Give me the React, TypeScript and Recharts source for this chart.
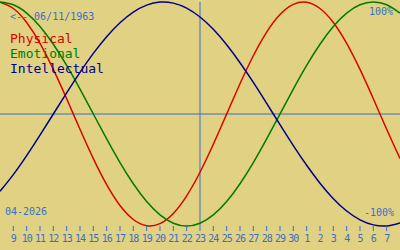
import { Line, LineChart, XAxis, YAxis, ReferenceLine } from "recharts";

// one point per day, 8 Apr .. 8 May
const dayLabels = [
  "8", "9", "10", "11", "12", "13", "14", "15", "16", "17", "18", "19", "20", "21", "22", "23",
  "24", "25", "26", "27", "28", "29", "30", "1", "2", "3", "4", "5", "6", "7", "8",
];
const physical = [
  0.998, 0.942, 0.817, 0.631, 0.398, 0.136, -0.136, -0.398, -0.631, -0.817, -0.942, -0.998, -0.979, -0.888, -0.731, -0.52,
  -0.27, 0, 0.27, 0.52, 0.731, 0.888, 0.979, 0.998, 0.942, 0.817, 0.631, 0.398, 0.136, -0.136, -0.398,
];
const emotional = [
  1.0, 0.975, 0.901, 0.782, 0.623, 0.434, 0.223, 0, -0.223, -0.434, -0.623, -0.782, -0.901, -0.975, -1.0, -0.975,
  -0.901, -0.782, -0.623, -0.434, -0.223, 0, 0.223, 0.434, 0.623, 0.782, 0.901, 0.975, 1.0, 0.975, 0.901,
];
const intellectual = [
  -0.69, -0.541, -0.372, -0.189, 0, 0.189, 0.372, 0.541, 0.69, 0.815, 0.91, 0.972, 0.999, 0.99, 0.945, 0.866,
  0.756, 0.618, 0.458, 0.282, 0.095, -0.095, -0.282, -0.458, -0.618, -0.756, -0.866, -0.945, -0.99, -0.999, -0.972,
];
const todayIndex = 15;

const data = dayLabels.map((d, i) => ({
  i,
  day: d,
  physical: physical[i],
  emotional: emotional[i],
  intellectual: intellectual[i],
}));
const ticks = data.slice(1, -1).map((p) => p.i);

const bg = "#e0d282";
const blue = "#3a6ec8";
const mono = "'DejaVu Sans Mono', monospace";

const txt = (top: number, left: number, size: number, color: string): React.CSSProperties => ({
  position: "absolute",
  top,
  left,
  fontSize: size,
  color,
  fontFamily: mono,
  lineHeight: 1,
  whiteSpace: "pre",
});

export default function App() {
  return (
    <div style={{ position: "absolute", left: 0, top: 0, width: 400, height: 250, background: bg, overflow: "hidden" }}>
      <LineChart width={400} height={250} data={data} margin={{ top: 2, right: 0, left: 0, bottom: 0 }}>
        <XAxis
          dataKey="i"
          type="number"
          domain={[0, 30]}
          ticks={ticks}
          interval={0}
          tickFormatter={(v) => dayLabels[v]}
          axisLine={false}
          tickLine={{ stroke: blue }}
          tickSize={5}
          tickMargin={4}
          height={24}
          tick={{ fill: blue, fontSize: 10, fontFamily: mono, letterSpacing: -1 }}
        />
        <YAxis hide domain={[-1, 1]} />
        <ReferenceLine y={0} stroke={blue} strokeWidth={1} />
        <ReferenceLine x={todayIndex} stroke={blue} strokeWidth={1} />
        <Line type="natural" dataKey="physical" stroke="#dc0000" strokeWidth={1.5} dot={false} isAnimationActive={false} />
        <Line type="natural" dataKey="emotional" stroke="#007a00" strokeWidth={1.5} dot={false} isAnimationActive={false} />
        <Line type="natural" dataKey="intellectual" stroke="#00008c" strokeWidth={1.5} dot={false} isAnimationActive={false} />
      </LineChart>
      <div style={txt(12, 10, 10, blue)}>{"<-- 06/11/1963"}</div>
      <div style={txt(32, 10, 13, "#dc0000")}>Physical</div>
      <div style={txt(47, 10, 13, "#007a00")}>Emotional</div>
      <div style={txt(62, 10, 13, "#00008c")}>Intellectual</div>
      <div style={txt(7, 369, 10, blue)}>100%</div>
      <div style={txt(208, 364, 10, blue)}>-100%</div>
      <div style={txt(207, 5, 10, blue)}>04-2026</div>
    </div>
  );
}
